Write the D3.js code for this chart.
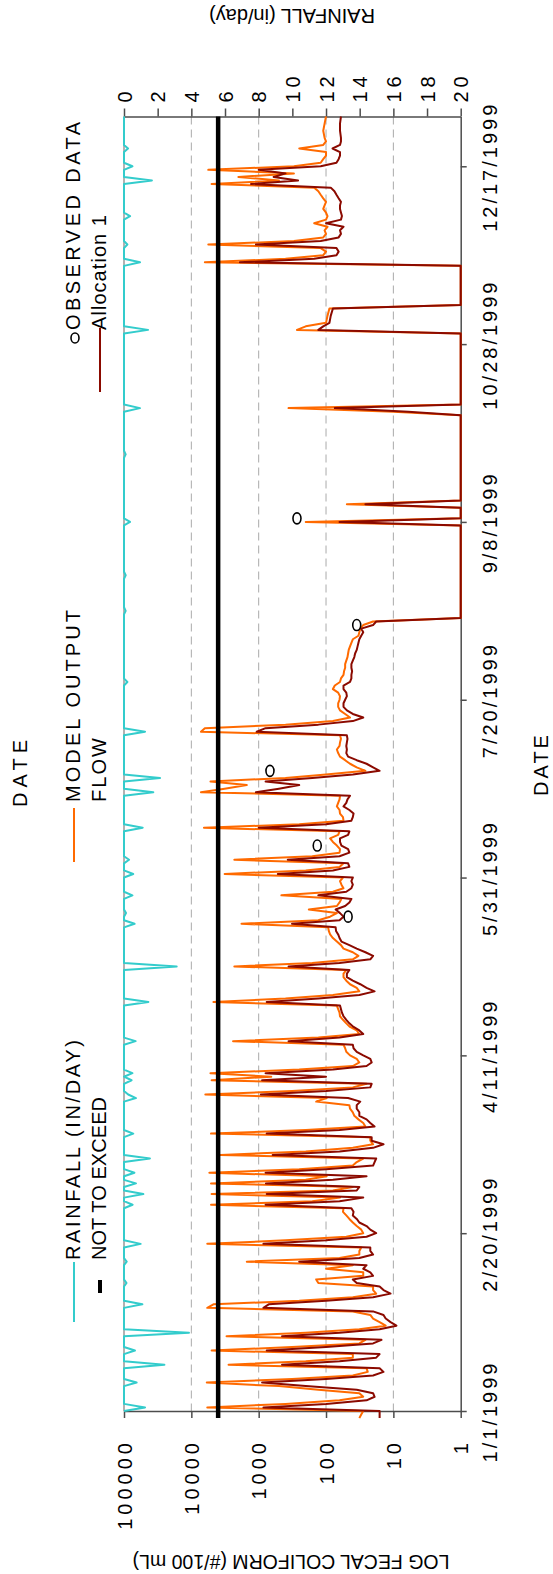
<!DOCTYPE html>
<html><head><meta charset="utf-8">
<script src="https://cdn.jsdelivr.net/npm/d3@7"></script>
<style>
body{margin:0;background:#fff}
text{font-family:"Liberation Sans",Arial,Helvetica,sans-serif;fill:#000}
</style></head>
<body><svg id="chart" width="553" height="1574"></svg>
<script>
// ---------- DATA ----------
const START = new Date(1999, 0, 1);
// daily model output (#/100 mL), first value = 12/30/1998 (day -2)
const modelDaily = [
// -2 .. 7
32,30,28,5800,400,63,28,32,130,500,
// 8 .. 17
5900,320,40,24,25,2800,200,40,40,5000,
// 18 .. 27
320,32,26,3000,200,32,13,16,20,22,
// 28 .. 37
40,5800,4700,250,40,18,20,20,130,140,
// 38 .. 47
28,28,100,40,1500,63,32,32,30,5800,
// 48 .. 57
400,50,28,30,35,40,45,50,56,55,
// 58 .. 67
5100,160,62,5000,79,40,5100,200,98,5400,
// 68 .. 77
250,40,35,28,3700,200,40,20,22,22,
// 78 .. 87
5100,200,26,28,33,38,40,44,45,140,
// 88 .. 97
98,6200,320,40,25,5000,650,5200,250,40,
// 98 .. 107
32,35,44,50,52,55,2400,130,32,35,
// 108 .. 117
44,50,56,62,63,66,69,4700,400,79,
// 118 .. 127
32,35,44,50,55,55,50,2300,160,40,
// 128 .. 137
33,40,55,60,69,79,87,91,93,1800,
// 138 .. 147
130,87,69,180,69,63,59,460,79,55,
// 148 .. 157
59,62,56,3200,200,63,55,2300,160,63,
// 158 .. 167
62,69,79,87,66,63,6500,250,55,56,
// 168 .. 177
62,63,69,66,63,62,7200,3200,1500,5200,
// 178 .. 187
400,100,26,35,44,52,62,66,69,63,
// 188 .. 197
62,60,62,7200,6300,400,79,44,52,62,
// 198 .. 207
66,66,63,62,66,79,74,62,60,55,
// 208 .. 217
54,52,52,50,48,47,46,44,42,40,
// 218 .. 223
33,32,31,28,20,1
];
// later model output readings [day of 1999, #/100 mL]
const modelLate = [[249,1],[250,200],[251,1],[254,1],[255,49],[256,1],[280,1],[281,10],[282,360],[283,1],
[303,1],[304,270],[305,200],[306,100],[308,95],[310,89],[311,1],[322,1],[323,6300],[324,400],[325,110],[326,100],
[327,120],[328,5600],[329,300],[330,110],[331,100],[332,105],[333,95],[334,150],[335,100],[336,95],[337,100],
[338,110],[339,105],[340,100],[341,110],[342,120],[343,130],[344,150],[345,5000],[346,500],[347,2000],[348,300],
[349,5600],[350,300],[351,120],[352,110],[353,100],[354,100],[355,250],[356,110],[357,100],[358,105],[360,110],[362,105],[364,100]];

// daily Allocation 1 (#/100 mL), first value = 12/30/1998 (day -2)
const allocDaily = [
// -2 .. 7
16,16,16,850,100,25,19,20,35,200,
// 8 .. 17
890,100,20,14,16,450,63,18,16,760,
// 18 .. 27
100,20,15,450,63,16,9,11,13,14,
// 28 .. 37
20,850,710,100,20,11,14,16,35,40,
// 38 .. 47
20,22,28,25,250,32,20,22,22,850,
// 48 .. 57
100,25,18,22,25,32,35,40,39,42,
// 58 .. 67
790,63,28,760,35,32,780,79,25,790,
// 68 .. 77
100,20,19,18,620,63,20,14,21,21,
// 78 .. 87
760,63,19,22,25,32,32,35,35,31,
// 88 .. 97
47,930,100,22,21,890,100,790,79,25,
// 98 .. 107
21,22,28,35,39,40,360,63,28,32,
// 108 .. 117
39,45,50,55,58,60,62,760,130,32,
// 118 .. 127
19,25,31,40,49,49,45,360,63,22,
// 128 .. 137
20,26,35,45,59,63,66,71,72,320,
// 138 .. 147
63,55,62,72,52,45,42,130,50,42,
// 148 .. 157
40,42,40,520,79,45,47,370,63,45,
// 158 .. 167
47,59,62,62,47,45,1000,100,42,40,
// 168 .. 177
39,45,55,50,48,44,1100,500,250,790,
// 178 .. 187
160,40,16,20,25,35,47,50,49,50,
// 188 .. 197
49,48,49,1070,790,130,40,28,40,49,
// 198 .. 207
55,55,52,49,50,55,55,44,42,42,
// 208 .. 217
41,42,42,40,38,37,35,34,33,32,
// 218 .. 223
30,28,30,20,18,1
];
const allocLate = [[249,1],[250,63],[251,1],[254,1],[255,26],[256,1],[280,1],[281,6],[282,74],[283,1],
[303,1],[304,130],[305,110],[306,89],[308,85],[310,79],[311,1],[322,1],[323,1900],[324,150],[325,70],[326,65],
[327,70],[328,1100],[329,120],[330,65],[331,60],[332,62],[333,55],[334,100],[335,60],[336,58],[337,60],
[338,62],[339,62],[340,60],[341,65],[342,70],[343,75],[344,85],[345,1300],[346,260],[347,600],[348,400],
[349,1000],[350,120],[351,70],[352,65],[353,62],[354,62],[355,80],[356,62],[357,60],[358,60],[360,62],[362,62],[364,60]];

// rainfall (in/day) on rainy days (all other days 0)
const rainDays   = [1,8,13,17,22,30,36,42,47,58,61,64,67,71,78,88,89,93,95,104,115,125,137,140,145,151,155,164,174,178,191,205,225,235,250,269,282,304,323,328,336,346,350,355];
const rainValues = [1.25,0.75,2.4,0.65,3.86,1.09,0.15,0.16,0.99,0.51,1.15,0.71,0.62,1.54,0.55,0.71,0.25,0.45,0.5,0.69,1.45,3.13,0.63,0.12,0.5,0.55,0.3,1.11,1.74,2.14,1.25,0.2,0.1,0.1,0.36,0.1,0.95,1.43,0.95,0.2,0.36,1.66,0.5,0.24];

// observed data
const obsDays   = [139,159,180,221,251];
const obsValues = [47,135,680,35,270];

const notToExceed = 4000;

const dateTickLabels = ["1/1/1999","2/20/1999","4/11/1999","5/31/1999","7/20/1999","9/8/1999","10/28/1999","12/17/1999"];
const logTickLabels  = ["100000","10000","1000","100","10","1"];
const rainTickLabels = ["0","2","4","6","8","10","12","14","16","18","20"];

// ---------- CHART ----------
const P = {left:124, right:460.7, top:116.5, bottom:1411};
const svg = d3.select("#chart");
const dayDate = d => d3.timeDay.offset(START, d);
const yD = d3.scaleTime().domain([START, new Date(1999,11,31)]).range([P.bottom, P.top]);
const xLog = d3.scaleLog().domain([100000, 1]).range([P.left, P.right]);
const xRain = d3.scaleLinear().domain([0, 20]).range([P.left, P.right]);

const parseMDY = s => { const [m,d,y] = s.split("/").map(Number); return new Date(y, m-1, d); };

// grid
svg.append("g").selectAll("line").data([10000,1000,100,10]).join("line")
  .attr("x1", d=>xLog(d)).attr("x2", d=>xLog(d))
  .attr("y1", P.top).attr("y2", P.bottom)
  .attr("stroke", "#aaa").attr("stroke-width", 1).attr("stroke-dasharray", "8,5");

// left frame line
svg.append("line").attr("x1",P.left).attr("x2",P.left).attr("y1",P.top).attr("y2",P.bottom)
  .attr("stroke","#999").attr("stroke-width",1.5);

const axisColor = "#4d4d4d";
function styleAxis(g){
  g.select(".domain").attr("stroke", axisColor).attr("stroke-width", 1.5);
  g.selectAll(".tick line").attr("stroke", axisColor).attr("stroke-width", 1.5);
  g.selectAll(".tick text").attr("fill","#000").style("font-size","20px")
   .style("font-family",'"Liberation Sans",Arial,sans-serif');
}

// top rainfall axis
const gTop = svg.append("g").attr("transform", `translate(0,${P.top})`)
  .call(d3.axisTop(xRain).tickValues(rainTickLabels.map(Number)).tickSize(8).tickSizeOuter(0)
    .tickFormat((d,i)=>rainTickLabels[i]));
styleAxis(gTop);
gTop.selectAll(".tick text").attr("transform","rotate(-90)").attr("x",14).attr("y",7.2)
  .attr("dy",null).attr("text-anchor","start").style("letter-spacing","4px");

// bottom log axis
const gBot = svg.append("g").attr("transform", `translate(0,${P.bottom})`)
  .call(d3.axisBottom(xLog).tickValues(logTickLabels.map(Number)).tickSize(7).tickSizeOuter(0)
    .tickFormat((d,i)=>logTickLabels[i]));
styleAxis(gBot);
gBot.selectAll(".tick text").attr("transform","rotate(-90)").attr("x",-28).attr("y",7.2)
  .attr("dy",null).attr("text-anchor","end").style("letter-spacing","4px");

// right date axis
const gR = svg.append("g").attr("transform", `translate(${P.right},0)`)
  .call(d3.axisRight(yD).tickValues(dateTickLabels.map(parseMDY)).tickSize(6).tickSizeOuter(0)
    .tickFormat((d,i)=>dateTickLabels[i]));
styleAxis(gR);
gR.selectAll(".tick text").attr("transform","rotate(-90)").attr("x",0).attr("y",36)
  .attr("dy",null).attr("text-anchor","middle").style("letter-spacing","3px");

// rainfall line
const rainSeries = d3.range(0, 365).map(d => {
  const k = rainDays.indexOf(d);
  return {day:d, v: k >= 0 ? rainValues[k] : 0};
});
svg.append("path").datum(rainSeries)
  .attr("fill","none").attr("stroke","#33cccc").attr("stroke-width",2).attr("stroke-linejoin","round")
  .attr("d", d3.line().x(d=>xRain(d.v)).y(d=>yD(dayDate(d.day))));

// series
const toSeries = (daily, late) => daily.map((v,i)=>({day:i-2, v})).concat(late.map(([d,v])=>({day:d, v})));
const model = toSeries(modelDaily, modelLate);
const alloc = toSeries(allocDaily, allocLate);
const line = d3.line().x(d=>xLog(d.v)).y(d=>yD(dayDate(d.day)));

svg.append("path").datum(model).attr("fill","none").attr("stroke","#ff6a00")
  .attr("stroke-width",2).attr("stroke-linejoin","round").attr("d", line);
svg.append("path").datum(alloc).attr("fill","none").attr("stroke","#8b0a00")
  .attr("stroke-width",2).attr("stroke-linejoin","round").attr("d", line);

// not to exceed
svg.append("line").attr("x1",xLog(notToExceed)).attr("x2",xLog(notToExceed))
  .attr("y1", yD(dayDate(-2))).attr("y2", yD(dayDate(364)))
  .attr("stroke","#000").attr("stroke-width",4.5);

// observed
svg.append("g").selectAll("ellipse").data(obsDays.map((d,i)=>({day:d, v:obsValues[i]}))).join("ellipse")
  .attr("cx", d=>xLog(d.v)).attr("cy", d=>yD(dayDate(d.day))).attr("rx",4).attr("ry",5.5)
  .attr("fill","none").attr("stroke","#000").attr("stroke-width",1.6);

// ---------- TEXT ----------
function rotText(x, y, str, anchor, opts={}){
  const t = svg.append("text").attr("transform", `translate(${x},${y}) rotate(${opts.rot ?? -90})`)
    .attr("text-anchor", anchor).style("font-size", (opts.size||20)+"px").text(str);
  if (opts.len) t.attr("textLength", opts.len).attr("lengthAdjust","spacing");
  if (opts.ls) t.style("letter-spacing", opts.ls+"px");
  return t;
}
// axis titles
rotText(548, 764, "DATE", "middle", {ls:3});
rotText(27, 807, "DATE", "start", {len:67});
rotText(292, 9, "RAINFALL (in/day)", "middle", {rot:180});
rotText(291, 1555, "LOG FECAL COLIFORM (#/100 mL)", "middle", {rot:180, size:19.5});

// legend
rotText(80, 330, "OBSERVED DATA", "start", {len:208});
rotText(105.5, 330, "Allocation 1", "start", {len:115});
rotText(80, 802, "MODEL OUTPUT", "start", {len:192});
rotText(105.5, 802, "FLOW", "start", {len:64});
rotText(80, 1260, "RAINFALL (IN/DAY)", "start", {len:220});
rotText(106, 1260, "NOT TO EXCEED", "start", {len:163});

svg.append("ellipse").attr("cx",75).attr("cy",338).attr("rx",4).attr("ry",5)
  .attr("fill","none").attr("stroke","#000").attr("stroke-width",1.6);
svg.append("line").attr("x1",100).attr("x2",100).attr("y1",328).attr("y2",392)
  .attr("stroke","#8b0a00").attr("stroke-width",2);
svg.append("line").attr("x1",74).attr("x2",74).attr("y1",808).attr("y2",862)
  .attr("stroke","#ff6a00").attr("stroke-width",2);
svg.append("line").attr("x1",74).attr("x2",74).attr("y1",1262).attr("y2",1322)
  .attr("stroke","#33cccc").attr("stroke-width",2);
svg.append("line").attr("x1",100).attr("x2",100).attr("y1",1280).attr("y2",1293)
  .attr("stroke","#000").attr("stroke-width",4);
</script>
</body></html>
